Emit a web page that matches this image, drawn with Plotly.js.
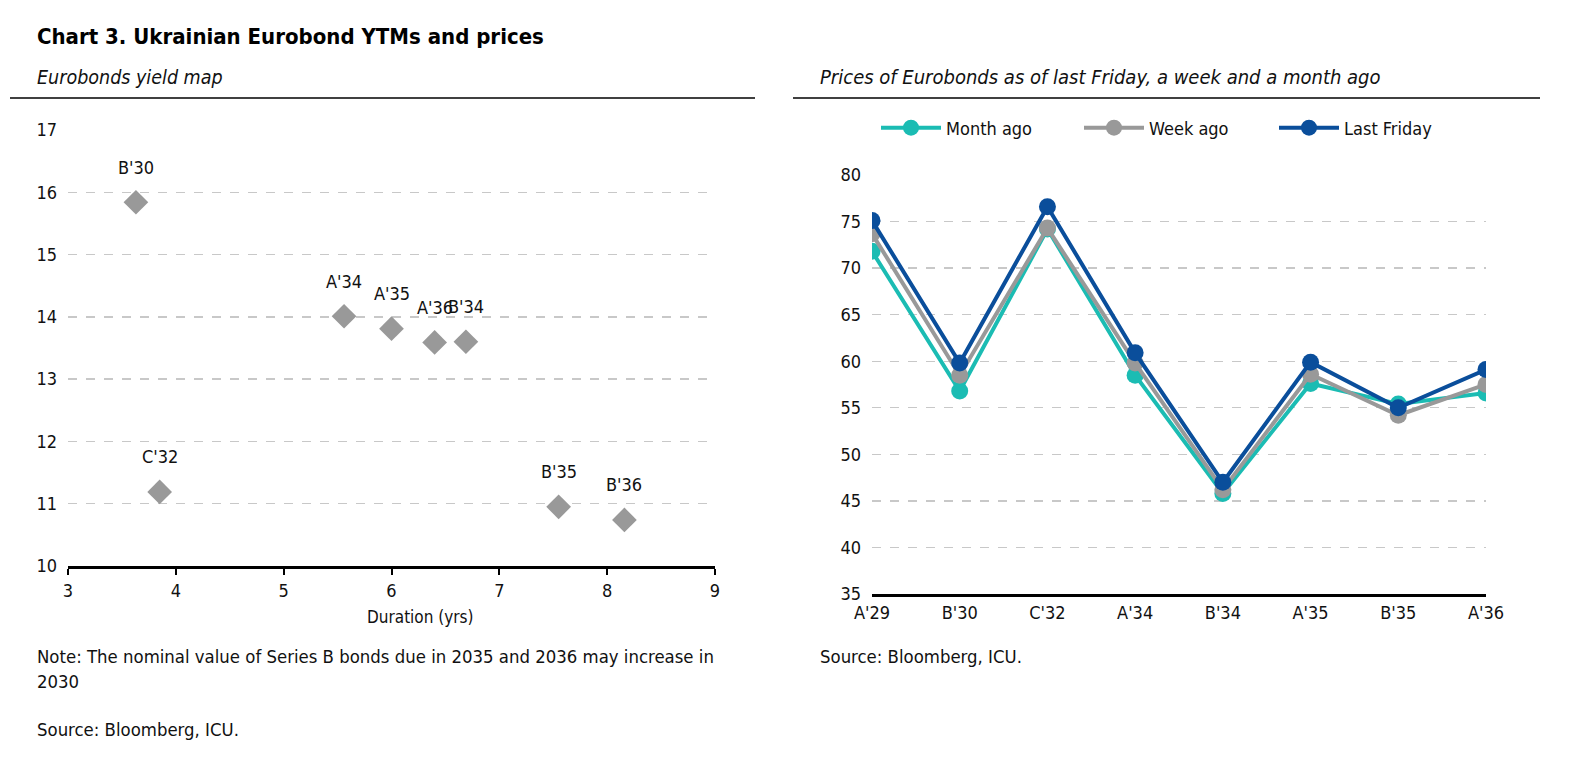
<!DOCTYPE html>
<html><head><meta charset="utf-8">
<script src="https://cdn.plot.ly/plotly-3.0.1.min.js"></script>
<style>
html,body{margin:0;padding:0;background:#fff;overflow:hidden}
#chart{width:1576px;height:772px}
#chart text{font-stretch:condensed !important;}
</style>
</head><body><div id="chart"></div>
<script>
// Left panel: yield map
const bondNames = ["B'30", "C'32", "A'34", "A'35", "A'36", "B'34", "B'35", "B'36"];
const duration = [3.63, 3.85, 5.56, 6.00, 6.40, 6.69, 7.55, 8.16];
const ytm = [15.84, 11.19, 14.01, 13.81, 13.59, 13.60, 10.95, 10.74];

// Right panel: prices
const priceBonds = ["A'29", "B'30", "C'32", "A'34", "B'34", "A'35", "B'35", "A'36"];
const monthAgo = [71.8, 56.8, 74.2, 58.5, 45.8, 57.6, 55.4, 56.6];
const weekAgo = [73.7, 58.5, 74.3, 59.8, 46.2, 58.6, 54.2, 57.5];
const lastFriday = [75.1, 59.8, 76.6, 60.9, 47.0, 59.9, 55.0, 59.1];

const FONT = "'DejaVu Sans Condensed', 'DejaVu Sans', sans-serif";
const W = 1576, H = 772;
const px = v => v / W, py = v => 1 - v / H;

const traces = [
  {type:'scatter', mode:'markers', x:duration, y:ytm, xaxis:'x', yaxis:'y', showlegend:false,
   marker:{symbol:'diamond', size:19, color:'#999999'}, hoverinfo:'skip'},
  {type:'scatter', mode:'lines+markers', name:'Month ago', x:priceBonds, y:monthAgo, xaxis:'x2', yaxis:'y2', legend:'legend',
   line:{color:'#1bbcb3', width:4}, marker:{size:17, color:'#1bbcb3'}},
  {type:'scatter', mode:'lines+markers', name:'Week ago', x:priceBonds, y:weekAgo, xaxis:'x2', yaxis:'y2', legend:'legend2',
   line:{color:'#999999', width:4}, marker:{size:17, color:'#999999'}},
  {type:'scatter', mode:'lines+markers', name:'Last Friday', x:priceBonds, y:lastFriday, xaxis:'x2', yaxis:'y2', legend:'legend3',
   line:{color:'#0a4e9b', width:4}, marker:{size:17, color:'#0a4e9b'}}
];

const annotations = bondNames.map((n, i) => ({
  x: duration[i], y: ytm[i], xref:'x', yref:'y', text:n, showarrow:false,
  yshift:35, font:{family:FONT, size:18, color:'#111'}
}));

const textAnn = (x, y, text, opts={}) => Object.assign({
  x:px(x), y:py(y), xref:'paper', yref:'paper', text, showarrow:false,
  xanchor:'left', yanchor:'middle', font:{family:FONT, size:18, color:'#111'}
}, opts);

annotations.push(
  textAnn(35, 37, '<b>Chart 3. Ukrainian Eurobond YTMs and prices</b>', {font:{family:FONT, size:22, color:'#000'}}),
  textAnn(35, 77, '<i>Eurobonds yield map</i>', {font:{family:FONT, size:19.5, color:'#111'}}),
  textAnn(818, 77, '<i>Prices of Eurobonds as of last Friday, a week and a month ago</i>', {font:{family:FONT, size:20, color:'#111'}}),
  textAnn(420, 617, 'Duration (yrs)', {xanchor:'center', font:{family:FONT, size:17, color:'#111'}}),
  textAnn(35, 656, 'Note: The nominal value of Series B bonds due in 2035 and 2036 may increase in', {font:{family:FONT, size:18.4, color:'#111'}}),
  textAnn(35, 681, '2030', {font:{family:FONT, size:18.4, color:'#111'}}),
  textAnn(35, 729, 'Source: Bloomberg, ICU.', {font:{family:FONT, size:18.4, color:'#111'}}),
  textAnn(818, 656, 'Source: Bloomberg, ICU.', {font:{family:FONT, size:18.4, color:'#111'}})
);

const gridStyle = {showgrid:true, gridcolor:'#c8c8c8', griddash:'dash', gridwidth:1.3};
const legendAt = x => ({orientation:'h', x:px(x), y:py(128), xanchor:'left', yanchor:'middle',
  font:{family:FONT, size:18, color:'#111'}, itemwidth:60, bgcolor:'rgba(0,0,0,0)'});

const layout = {
  width:W, height:H, margin:{l:0, r:0, t:0, b:0}, paper_bgcolor:'#fff', plot_bgcolor:'#fff',
  font:{family:FONT, size:18, color:'#111'},
  xaxis:{domain:[px(68), px(715)], range:[3, 9], dtick:1, tick0:3, showgrid:false, zeroline:false,
         showline:true, linecolor:'#000', linewidth:3, ticks:'outside', ticklen:6, tickwidth:2, tickcolor:'#000',
         tickfont:{family:FONT, size:18, color:'#111'}, anchor:'y'},
  yaxis:Object.assign({domain:[py(566), py(130)], range:[10, 17], dtick:1, zeroline:false, showline:false,
         ticks:'', tickfont:{family:FONT, size:18, color:'#111'}, anchor:'x', ticklabelstandoff:10}, gridStyle),
  xaxis2:{domain:[px(872), px(1486)], range:[0, 7], type:'category', showgrid:false, zeroline:false,
         showline:true, linecolor:'#000', linewidth:3, ticks:'', tickfont:{family:FONT, size:18, color:'#111'}, anchor:'y2'},
  yaxis2:Object.assign({domain:[py(594), py(175)], range:[35, 80], dtick:5, zeroline:false, showline:false,
         ticks:'', tickfont:{family:FONT, size:18, color:'#111'}, anchor:'x2', ticklabelstandoff:10}, gridStyle),
  showlegend:true,
  legend:legendAt(876),
  legend2:legendAt(1079),
  legend3:legendAt(1274),
  shapes:[
    {type:'line', xref:'paper', yref:'paper', x0:px(10), x1:px(755), y0:py(98), y1:py(98), line:{color:'#000', width:1.5}},
    {type:'line', xref:'paper', yref:'paper', x0:px(793), x1:px(1540), y0:py(98), y1:py(98), line:{color:'#000', width:1.5}}
  ],
  annotations
};

Plotly.newPlot('chart', traces, layout, {displayModeBar:false, staticPlot:true});
</script></body></html>
